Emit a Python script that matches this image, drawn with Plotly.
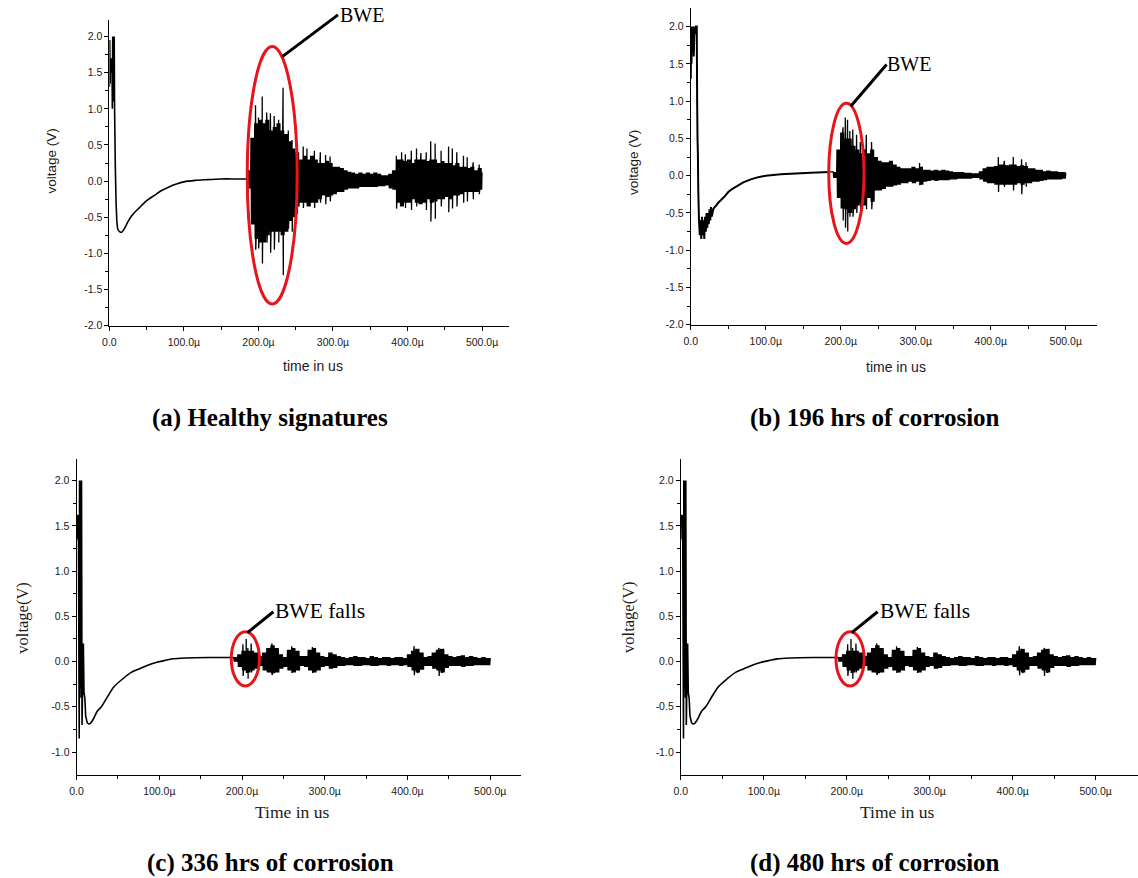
import plotly.graph_objects as go

W, H = 1138, 878

# ---------------- data ----------------
# time ticks
x_tickvals = [0, 100, 200, 300, 400, 500]
x_ticktext = ["0.0", "100.0\u00b5", "200.0\u00b5", "300.0\u00b5", "400.0\u00b5", "500.0\u00b5"]

# (a) Healthy signatures: excitation pulse + decay (us, V)
a_t = [0, 0.5, 1, 1.5, 2, 2.5, 3, 3.5, 4, 4.5, 5, 5.5, 6, 6.5, 7, 8, 9, 10, 11, 12,
       14, 16, 18, 20, 25, 30, 35, 40, 50, 60, 70, 80, 90, 100, 115, 130, 150, 170, 185]
a_v = [1.3, 1.95, 1.35, 1.7, 1.5, 1.65, 1.55, 1.7, 1.0, 2.0, 1.1, 2.0, 1.6, 2.0, 1.0, 0.2, -0.3, -0.55, -0.65, -0.68,
       -0.7, -0.71, -0.69, -0.66, -0.56, -0.48, -0.42, -0.37, -0.27, -0.2, -0.13, -0.08, -0.04, -0.01, 0.01, 0.02, 0.03, 0.03, 0.03]
# (a) echo envelope every 5 us from 185 us
a_env_t0 = 185
a_hi = [0.15, 0.6, 0.8, 0.85, 0.8, 0.85, 0.7, 0.75, 0.8, 0.7, 0.65, 0.55, 0.45, 0.4, 0.3, 0.35, 0.3, 0.35, 0.3, 0.25,
        0.25, 0.28, 0.25, 0.2, 0.2, 0.18, 0.15, 0.13, 0.12, 0.1, 0.12, 0.1, 0.12, 0.1, 0.12, 0.1, 0.08, 0.08, 0.1, 0.15,
        0.3, 0.3, 0.28, 0.3, 0.25, 0.3, 0.3, 0.3, 0.28, 0.3, 0.3, 0.25, 0.28, 0.25, 0.25, 0.22, 0.25, 0.2, 0.2, 0.18,
        0.2, 0.15, 0.18, 0.12]
a_lo = [-0.1, -0.6, -0.8, -0.85, -0.85, -0.75, -0.7, -0.7, -0.7, -0.75, -0.7, -0.55, -0.5, -0.35, -0.3, -0.3, -0.35, -0.3, -0.3, -0.25,
        -0.2, -0.22, -0.2, -0.18, -0.15, -0.15, -0.12, -0.1, -0.1, -0.1, -0.08, -0.08, -0.08, -0.08, -0.08, -0.07, -0.07, -0.06, -0.1, -0.12,
        -0.3, -0.35, -0.3, -0.3, -0.25, -0.3, -0.32, -0.3, -0.25, -0.3, -0.28, -0.25, -0.25, -0.22, -0.25, -0.2, -0.2, -0.18, -0.15, -0.15,
        -0.15, -0.15, -0.12, -0.1]
a_sp_t = [196, 200, 205, 211, 216, 221, 227, 233, 240, 245, 252, 260, 265, 275, 283, 290, 296,
          385, 392, 397, 405, 412, 418, 425, 431, 437, 445, 455, 460, 466, 475, 480, 488, 496]
a_sp_hi = [1.05, 0.88, 1.17, 0.95, 0.94, 0.9, 0.85, 1.29, 0.7, 0.57, 0.5, 0.48, 0.45, 0.42, 0.4, 0.36, 0.34,
           0.35, 0.4, 0.37, 0.42, 0.45, 0.39, 0.4, 0.55, 0.52, 0.42, 0.48, 0.45, 0.4, 0.35, 0.33, 0.26, 0.23]
a_sp_lo = [-0.95, -0.93, -1.14, -0.85, -0.99, -0.95, -0.85, -1.3, -0.66, -0.7, -0.45, -0.37, -0.33, -0.37, -0.3, -0.32, -0.28,
           -0.38, -0.35, -0.37, -0.4, -0.35, -0.3, -0.4, -0.56, -0.52, -0.35, -0.43, -0.38, -0.35, -0.3, -0.28, -0.25, -0.18]

# (b) 196 hrs of corrosion
b_t = [0, 0.5, 1, 1.5, 2, 3, 4, 5, 6, 7, 8, 8.5, 9, 9.5, 10, 11, 12, 13, 14, 15, 16, 17, 18, 19, 20,
       21, 22, 23, 24, 25, 26, 27, 28, 30, 32, 34, 36, 40, 45, 50, 55, 60, 65, 70, 80, 90, 100, 110, 120, 140, 160, 185]
b_v = [1.3, 1.95, 1.5, 2.0, 1.7, 2.0, 1.6, 2.0, 1.9, 2.0, 2.0, 1.0, 0.5, 0.3, -0.2, -0.6, -0.8, -0.6, -0.85, -0.55, -0.8, -0.6, -0.85, -0.55, -0.75,
       -0.5, -0.7, -0.5, -0.65, -0.45, -0.6, -0.42, -0.55, -0.45, -0.42, -0.4, -0.37, -0.33, -0.28, -0.22, -0.18, -0.15, -0.12, -0.09, -0.05, -0.02, 0.0, 0.01, 0.02, 0.03, 0.04, 0.05]
b_env_t0 = 190
b_hi = [0.05, 0.35, 0.58, 0.5, 0.5, 0.4, 0.35, 0.3, 0.35, 0.3, 0.35, 0.25, 0.2, 0.18, 0.18, 0.2, 0.15, 0.12, 0.1, 0.1,
        0.1, 0.12, 0.1, 0.12, 0.08, 0.08, 0.07, 0.08, 0.07, 0.08, 0.07, 0.06, 0.05, 0.05, 0.05, 0.04, 0.04, 0.03, 0.03, 0.06,
        0.1, 0.12, 0.12, 0.13, 0.15, 0.15, 0.14, 0.15, 0.15, 0.13, 0.14, 0.13, 0.1, 0.1, 0.08, 0.08, 0.06, 0.07, 0.06, 0.06,
        0.05, 0.05, 0.04]
b_lo = [-0.03, -0.3, -0.44, -0.45, -0.5, -0.45, -0.4, -0.35, -0.4, -0.3, -0.35, -0.2, -0.2, -0.18, -0.15, -0.15, -0.13, -0.12, -0.1, -0.1,
        -0.08, -0.1, -0.08, -0.12, -0.08, -0.07, -0.06, -0.07, -0.06, -0.06, -0.06, -0.05, -0.05, -0.04, -0.04, -0.04, -0.04, -0.03, -0.03, -0.05,
        -0.08, -0.1, -0.1, -0.12, -0.12, -0.12, -0.12, -0.12, -0.12, -0.1, -0.12, -0.1, -0.1, -0.08, -0.08, -0.07, -0.06, -0.05, -0.05, -0.05,
        -0.05, -0.04, -0.03]
b_sp_t = [203, 206, 209, 212, 216, 221, 226, 234, 241, 305, 410, 418, 430, 441, 447]
b_sp_hi = [0.65, 0.78, 0.75, 0.6, 0.62, 0.55, 0.45, 0.55, 0.45, 0.17, 0.25, 0.2, 0.25, 0.22, 0.18]
b_sp_lo = [-0.6, -0.7, -0.75, -0.55, -0.55, -0.5, -0.45, -0.45, -0.45, -0.12, -0.22, -0.15, -0.2, -0.25, -0.15]

# (c) 336 hrs of corrosion
c_t = [0, 1.0, 1.6, 2.2, 3.2, 3.6, 4.2, 4.8, 5.4, 6.0, 6.6, 7.2, 8.2, 9.0, 10.0, 11.0, 13.0, 15.0, 17.0, 20.0,
       25.0, 30.0, 36.0, 45.0, 56.0, 66.0, 76.0, 86.0, 96.0, 106.0, 116.0, 132.0, 160.0, 190.0]
c_v = [1.6, 1.62, 1.35, 1.62, -0.85, 2.0, -0.3, 2.0, -0.4, 2.0, -0.7, -0.3, 0.2, -0.35, -0.4, -0.6, -0.68, -0.69, -0.68, -0.64,
       -0.55, -0.5, -0.41, -0.28, -0.19, -0.12, -0.08, -0.04, -0.01, 0.01, 0.03, 0.04, 0.045, 0.045]
c_env_t0 = 190
c_hi = [0.05, 0.08, 0.12, 0.12, 0.12, 0.1, 0.06, 0.1, 0.15, 0.18, 0.15, 0.08, 0.05, 0.13, 0.15, 0.12, 0.06, 0.06, 0.13, 0.15,
        0.1, 0.06, 0.05, 0.1, 0.08, 0.06, 0.05, 0.04, 0.05, 0.06, 0.05, 0.05, 0.04, 0.06, 0.05, 0.04, 0.05, 0.05, 0.04, 0.05,
        0.05, 0.04, 0.08, 0.12, 0.14, 0.1, 0.05, 0.06, 0.1, 0.13, 0.14, 0.08, 0.06, 0.05, 0.06, 0.07, 0.05, 0.06, 0.05, 0.04,
        0.05, 0.04, 0.04]
c_lo = [0.0, -0.06, -0.1, -0.12, -0.1, -0.08, -0.05, -0.1, -0.12, -0.13, -0.12, -0.08, -0.06, -0.1, -0.12, -0.1, -0.05, -0.06, -0.1, -0.12,
        -0.1, -0.06, -0.05, -0.08, -0.07, -0.05, -0.05, -0.04, -0.04, -0.05, -0.05, -0.04, -0.04, -0.05, -0.05, -0.04, -0.04, -0.05, -0.04, -0.04,
        -0.05, -0.04, -0.06, -0.1, -0.12, -0.09, -0.05, -0.05, -0.08, -0.1, -0.12, -0.07, -0.05, -0.05, -0.05, -0.06, -0.05, -0.05, -0.04, -0.04,
        -0.04, -0.04, -0.03]
c_sp_t = [201, 205, 207, 211, 236, 260, 285, 408, 412, 438, 441]
c_sp_hi = [0.19, 0.25, 0.15, 0.2, 0.2, 0.17, 0.16, 0.17, 0.12, 0.15, 0.12]
c_sp_lo = [-0.16, -0.12, -0.19, -0.12, -0.15, -0.12, -0.12, -0.15, -0.13, -0.16, -0.12]

# (d) 480 hrs of corrosion (the source shows the same trace as (c))
d_t = list(c_t)
d_v = list(c_v)
d_env_t0 = 190
d_hi = list(c_hi)
d_lo = list(c_lo)
d_sp_t = list(c_sp_t)
d_sp_hi = list(c_sp_hi)
d_sp_lo = list(c_sp_lo)

ENV_STEP = 5.0
OSC_PER_STEP = 4          # drawn oscillations per envelope sample
T_END = 500.0
DECAY_FROM = 12.0         # start of the smooth decay part of each trace

captions = ["(a) Healthy signatures", "(b) 196 hrs of corrosion",
            "(c) 336 hrs of corrosion", "(d) 480 hrs of corrosion"]


def fx(p):
    return p / W


def fy(p):
    return 1 - p / H


def echo_trace(t0, hi, lo, sp_t, sp_hi, sp_lo):
    pts = []
    n = 2 * OSC_PER_STEP
    for i, (h, l) in enumerate(zip(hi, lo)):
        t = t0 + ENV_STEP * i
        for k in range(n):
            tt = t + k * ENV_STEP / n
            if tt <= T_END:
                pts.append((tt, h if k % 2 == 0 else l))
    for ts, sh, sl in zip(sp_t, sp_hi, sp_lo):
        pts.append((ts + 0.05, sh))
        pts.append((ts + 0.35, sl))
    pts.sort()
    return [p[0] for p in pts], [p[1] for p in pts]


panels = [
    dict(t=a_t, v=a_v, t0=a_env_t0, hi=a_hi, lo=a_lo, st=a_sp_t, sh=a_sp_hi, sl=a_sp_lo,
         xd=(103, 505), xr=[0, 536], yd=(20, 328), yr=[-2.0, 2.23], ymin=-2.0, lw=1.6, spline=True),
    dict(t=b_t, v=b_v, t0=b_env_t0, hi=b_hi, lo=b_lo, st=b_sp_t, sh=b_sp_hi, sl=b_sp_lo,
         xd=(688, 1097), xr=[0, 542], yd=(8, 327), yr=[-2.0, 2.25], ymin=-2.0, lw=2.0, spline=False),
    dict(t=c_t, v=c_v, t0=c_env_t0, hi=c_hi, lo=c_lo, st=c_sp_t, sh=c_sp_hi, sl=c_sp_lo,
         xd=(70, 517), xr=[0, 537], yd=(462, 780), yr=[-1.25, 2.24], ymin=-1.0, lw=1.6, spline=True),
    dict(t=d_t, v=d_v, t0=d_env_t0, hi=d_hi, lo=d_lo, st=d_sp_t, sh=d_sp_hi, sl=d_sp_lo,
         xd=(678, 1138), xr=[0, 551], yd=(462, 780), yr=[-1.25, 2.24], ymin=-1.0, lw=1.6, spline=True),
]

fig = go.Figure()
layout = {}
tickfont = dict(family="Liberation Sans, Arial, sans-serif", size=10.5, color="#1a1a1a")

for i, P in enumerate(panels):
    s = "" if i == 0 else str(i + 1)
    xa, ya = "x" + s, "y" + s
    t, v = P["t"], P["v"]
    if P["spline"]:
        k = next(j for j, tt in enumerate(t) if tt >= DECAY_FROM)
        fig.add_trace(go.Scatter(x=t[:k + 1], y=v[:k + 1], mode="lines", xaxis=xa, yaxis=ya,
                                 line=dict(color="black", width=P["lw"], simplify=False), hoverinfo="skip"))
        fig.add_trace(go.Scatter(x=t[k:], y=v[k:], mode="lines", xaxis=xa, yaxis=ya,
                                 line=dict(color="black", width=P["lw"], shape="spline", smoothing=0.8,
                                           simplify=False), hoverinfo="skip"))
    else:
        fig.add_trace(go.Scatter(x=t, y=v, mode="lines", xaxis=xa, yaxis=ya,
                                 line=dict(color="black", width=P["lw"], simplify=False), hoverinfo="skip"))
    ex, ey = echo_trace(P["t0"], P["hi"], P["lo"], P["st"], P["sh"], P["sl"])
    ex = [t[-1]] + ex
    ey = [v[-1]] + ey
    fig.add_trace(go.Scatter(x=ex, y=ey, mode="lines", xaxis=xa, yaxis=ya,
                             line=dict(color="black", width=1.3, simplify=False), hoverinfo="skip"))

    yt = [P["ymin"] + 0.5 * k for k in range(int(round((2.0 - P["ymin"]) / 0.5)) + 1)]
    ym = [val + 0.25 for val in yt[:-1]]
    layout["xaxis" + s] = dict(
        domain=[fx(P["xd"][0]), fx(P["xd"][1])], range=P["xr"], anchor=ya,
        showline=True, linecolor="black", linewidth=1, showgrid=False, zeroline=False,
        ticks="outside", ticklen=4, tickcolor="black", tickwidth=1, ticklabelstandoff=3,
        tickvals=x_tickvals, ticktext=x_ticktext, tickfont=tickfont,
        minor=dict(tickmode="array", tickvals=[50, 150, 250, 350, 450],
                   ticks="outside", ticklen=3, tickcolor="black"),
    )
    layout["yaxis" + s] = dict(
        domain=[fy(P["yd"][1]), fy(P["yd"][0])], range=P["yr"], anchor=xa,
        showline=True, linecolor="black", linewidth=1, showgrid=False, zeroline=False,
        ticks="outside", ticklen=4, tickcolor="black", tickwidth=1,
        tickvals=yt, ticktext=[f"{val:.1f}" for val in yt], tickfont=tickfont,
        minor=dict(tickmode="array", tickvals=ym, ticks="outside", ticklen=3, tickcolor="black"),
    )

shapes = []
annotations = []

# red ellipses around the back-wall echo (data coordinates)
ellipses = [("x", "y", 185, 252, -1.70, 1.86),
            ("x2", "y2", 184, 231, -0.91, 0.97),
            ("x3", "y3", 187, 221, -0.27, 0.33),
            ("x4", "y4", 187, 221, -0.27, 0.33)]
for xr_, yr_, x0, x1, y0, y1 in ellipses:
    shapes.append(dict(type="circle", xref=xr_, yref=yr_, x0=x0, x1=x1, y0=y0, y1=y1,
                       line=dict(color="#e8141c", width=3), layer="above"))

# leader lines and labels (pixel positions)
leaders = [((277, 57), (333, 15)), ((849, 107), (885, 65)),
           ((242, 637), (268, 616)), ((850, 637), (876, 616))]
for (x0, y0), (x1, y1) in leaders:
    shapes.append(dict(type="line", xref="paper", yref="paper",
                       x0=fx(x0), y0=fy(y0), x1=fx(x1), y1=fy(y1),
                       line=dict(color="black", width=3)))

serif = "Liberation Serif, Times New Roman, serif"
labels = [("BWE", 333, 15, 20), ("BWE", 883, 64, 20),
          ("BWE falls", 268, 615, 21.5), ("BWE falls", 876, 615, 21.5)]
for txt, x, y, sz in labels:
    annotations.append(dict(text=txt, xref="paper", yref="paper", x=fx(x), y=fy(y),
                            xanchor="left", yanchor="middle", showarrow=False,
                            font=dict(family=serif, size=sz, color="black")))

sans = "Liberation Sans, Arial, sans-serif"
# axis titles
ytitles = [("voltage (V)", 45, 162, sans, 13.5), ("voltage (V)", 631, 164, sans, 13.5),
           ("voltage(V)", 16, 622, serif, 16.5), ("voltage(V)", 626, 622, serif, 16.5)]
for txt, x, y, fam, sz in ytitles:
    annotations.append(dict(text=txt, xref="paper", yref="paper", x=fx(x), y=fy(y),
                            xanchor="center", yanchor="middle", textangle=-90, showarrow=False,
                            font=dict(family=fam, size=sz, color="#1a1a1a")))
xtitles = [("time in us", 308, 369, sans, 14), ("time in us", 895, 370, sans, 14),
           ("Time in us", 287, 818, serif, 17.5), ("Time in us", 896, 818, serif, 17.5)]
for txt, x, y, fam, sz in xtitles:
    annotations.append(dict(text=txt, xref="paper", yref="paper", x=fx(x), y=fy(y),
                            xanchor="center", yanchor="middle", showarrow=False,
                            font=dict(family=fam, size=sz, color="#1a1a1a")))

cap_pos = [(265, 421), (873, 421), (265, 869), (873, 869)]
for txt, (x, y) in zip(captions, cap_pos):
    annotations.append(dict(text="<b>" + txt + "</b>", xref="paper", yref="paper",
                            x=fx(x), y=fy(y), xanchor="center", yanchor="middle",
                            showarrow=False, font=dict(family=serif, size=25, color="black")))

fig.update_layout(
    width=W, height=H, margin=dict(l=0, r=0, t=0, b=0),
    paper_bgcolor="white", plot_bgcolor="white", showlegend=False,
    shapes=shapes, annotations=annotations, **layout,
)

fig.write_html("out.html", config={"displayModeBar": False},
               post_script="document.body.style.margin='0';document.body.style.overflow='hidden';")
